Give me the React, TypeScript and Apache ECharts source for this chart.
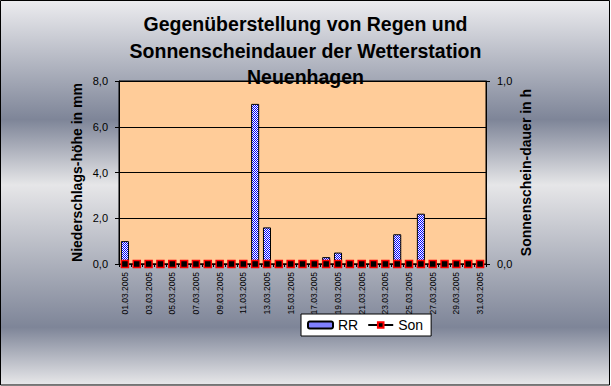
import React, { useEffect, useRef } from "react";
import * as echarts from "echarts";

const dates = [
  "01.03.2005", "02.03.2005", "03.03.2005", "04.03.2005", "05.03.2005", "06.03.2005",
  "07.03.2005", "08.03.2005", "09.03.2005", "10.03.2005", "11.03.2005", "12.03.2005",
  "13.03.2005", "14.03.2005", "15.03.2005", "16.03.2005", "17.03.2005", "18.03.2005",
  "19.03.2005", "20.03.2005", "21.03.2005", "22.03.2005", "23.03.2005", "24.03.2005",
  "25.03.2005", "26.03.2005", "27.03.2005", "28.03.2005", "29.03.2005", "30.03.2005",
  "31.03.2005",
];
const rr = [1.0, 0, 0, 0, 0, 0, 0, 0, 0, 0, 0, 7.0, 1.6, 0, 0, 0, 0, 0.3, 0.5, 0, 0, 0, 0, 1.3, 0, 2.2, 0, 0, 0, 0, 0];
const son = [0, 0, 0, 0, 0, 0, 0, 0, 0, 0, 0, 0, 0, 0, 0, 0, 0, 0, 0, 0, 0, 0, 0, 0, 0, 0, 0, 0, 0, 0, 0];

const FONT = '"Liberation Sans", Arial, sans-serif';

function makePattern(): any {
  const c = document.createElement("canvas");
  c.width = 2;
  c.height = 2;
  const ctx = c.getContext("2d")!;
  ctx.fillStyle = "#ffffff";
  ctx.fillRect(0, 0, 2, 2);
  ctx.fillStyle = "#0000ff";
  ctx.fillRect(0, 0, 1, 1);
  ctx.fillRect(1, 1, 1, 1);
  return { image: c.toDataURL(), repeat: "repeat", imageWidth: 2, imageHeight: 2 };
}

export default function App() {
  const ref = useRef<HTMLDivElement>(null);
  useEffect(() => {
    const chart = echarts.init(ref.current!, null, { renderer: "svg" });
    const pattern = makePattern();
    const fmt = (v: number) => v.toFixed(1).replace(".", ",");
    chart.setOption({
      animation: false,
      graphic: [
        {
          type: "rect",
          z: -10,
          silent: true,
          shape: { x: 0.5, y: 0.5, width: 609, height: 384.5 },
          style: {
            fill: new echarts.graphic.LinearGradient(0, 0, 0, 1, [
              { offset: 0, color: "#ececef" },
              { offset: 0.31, color: "#7e8598" },
              { offset: 0.48, color: "#e6e6e8" },
              { offset: 0.85, color: "#7e8598" },
              { offset: 1, color: "#e8e8ea" },
            ]),
            stroke: "#000",
            lineWidth: 1,
          },
        },
      ],
      title: {
        text: "Gegenüberstellung von Regen und\nSonnenscheindauer der Wetterstation\nNeuenhagen",
        left: "center",
        top: 6,
        z: 10,
        textStyle: { fontFamily: FONT, fontSize: 19.5, fontWeight: "bold", color: "#000", lineHeight: 26.5 },
      },
      legend: {
        left: 301,
        top: 314,
        backgroundColor: "#fff",
        borderColor: "#000",
        borderWidth: 1,
        padding: [4, 8, 4, 6],
        itemWidth: 25,
        itemHeight: 7,
        itemGap: 9,
        borderRadius: 0,
        textStyle: { fontFamily: FONT, fontSize: 14, color: "#000" },
        data: ["RR", "Son"],
      },
      grid: {
        left: 119,
        right: 125,
        top: 81,
        bottom: 122,
        show: true,
        backgroundColor: "#ffcc99",
        borderColor: "#000",
        borderWidth: 1,
      },
      xAxis: {
        type: "category",
        data: dates,
        boundaryGap: true,
        axisLine: { lineStyle: { color: "#000", width: 1 } },
        axisTick: { show: true, interval: 0, length: 3, lineStyle: { color: "#000" } },
        axisLabel: {
          interval: 1,
          rotate: 90,
          margin: 8,
          fontFamily: FONT,
          fontSize: 8.5,
          color: "#000",
        },
      },
      yAxis: [
        {
          type: "value",
          min: 0,
          max: 8,
          interval: 2,
          name: "Niederschlags-höhe in mm",
          nameLocation: "middle",
          nameRotate: 90,
          nameGap: 35,
          nameMoveOverlap: false,
          nameTextStyle: { fontFamily: FONT, fontSize: 14, fontWeight: "bold", color: "#000" },
          axisLine: { show: true, lineStyle: { color: "#000" } },
          axisTick: { show: true, length: 4, lineStyle: { color: "#000" } },
          axisLabel: { formatter: fmt, margin: 11, fontFamily: FONT, fontSize: 11, color: "#000" },
          splitLine: { show: true, lineStyle: { color: "#000", width: 1 } },
        },
        {
          type: "value",
          min: 0,
          max: 1,
          interval: 1,
          position: "right",
          name: "Sonnenschein-dauer in h",
          nameLocation: "middle",
          nameRotate: 90,
          nameGap: 33,
          nameMoveOverlap: false,
          nameTextStyle: { fontFamily: FONT, fontSize: 14, fontWeight: "bold", color: "#000" },
          axisLine: { show: true, lineStyle: { color: "#000" } },
          axisTick: { show: true, length: 4, lineStyle: { color: "#000" } },
          axisLabel: { formatter: fmt, margin: 11, fontFamily: FONT, fontSize: 11, color: "#000" },
          splitLine: { show: false },
        },
      ],
      series: [
        {
          name: "RR",
          type: "bar",
          yAxisIndex: 0,
          data: rr,
          barWidth: "68%",
          itemStyle: { color: pattern, borderColor: "#000", borderWidth: 1 },
        },
        {
          name: "Son",
          type: "line",
          yAxisIndex: 1,
          data: son,
          symbol: "rect",
          symbolSize: 7,
          z: 5,
          lineStyle: { color: "#000", width: 1 },
          itemStyle: { color: "#000", borderColor: "#ff0000", borderWidth: 1.5 },
        },
      ],
    });
    return () => chart.dispose();
  }, []);
  return (
    <div
      ref={ref}
      style={{ position: "absolute", left: 0, top: 0, width: 611, height: 386 }}
    />
  );
}
